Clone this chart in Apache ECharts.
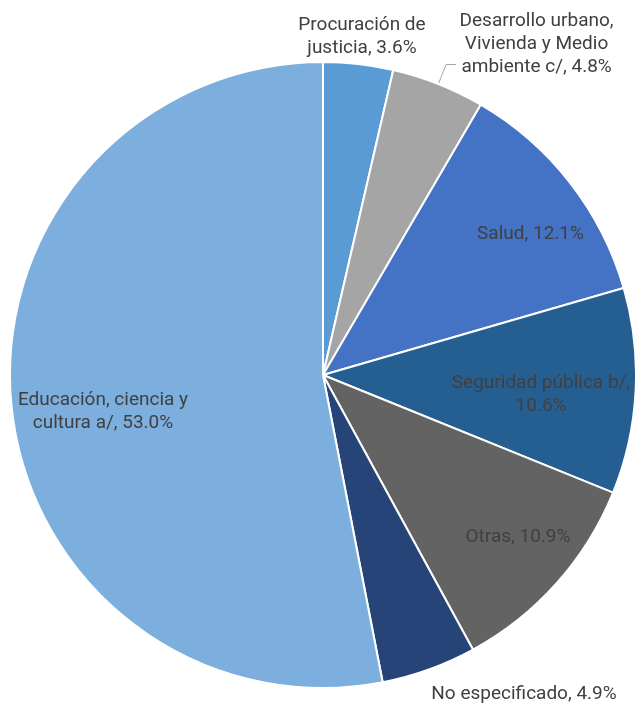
<!DOCTYPE html>
<html>
<head>
<meta charset="utf-8">
<script src="https://cdn.jsdelivr.net/npm/echarts@6/dist/echarts.min.js"></script>
<style>
  html, body { margin: 0; padding: 0; background: #fff; }
  #chart { width: 635px; height: 706px; }
</style>
</head>
<body>
<div id="chart"></div>
<script>
// Share of spending by purpose (%), clockwise from 12 o'clock
const categories = [
  'Procuración de\njusticia',
  'Desarrollo urbano,\nVivienda y Medio\nambiente c/',
  'Salud',
  'Seguridad pública b/,\n',
  'Otras',
  'No especificado',
  'Educación, ciencia y\ncultura a/'
];
const shares = [3.6, 4.8, 12.1, 10.6, 10.9, 4.9, 53.0];
const colors = ['#5B9BD5', '#A5A5A5', '#4472C4', '#255E91', '#636363', '#264478', '#7CAFDD'];

// Centre of each text block in pixels (null = leave at the leader line)
const labelSpots = [
  [362, 36.5], null, [530.5, 234.5], [541, 395], [518, 537.5], [524, 694], [103, 411.5]
];
// Width of each text block, so every line is centred inside it
const blockWidths = [126, 155, 112, 180, 104, 186, 172];

const fmtPlain = p => p.name.endsWith('\n')
  ? p.name + p.value.toFixed(1) + '%'
  : p.name + ', ' + p.value.toFixed(1) + '%';
const fmt = p => fmtPlain(p).split('\n').map(s => '{c' + p.dataIndex + '|' + s + '}').join('\n');

const textStyle = {
  align: 'center', color: '#404040',
  fontFamily: 'Roboto, Arial, sans-serif', fontSize: 19, lineHeight: 23
};
const rich = {};
blockWidths.forEach((w, i) => { rich['c' + i] = Object.assign({ width: w }, textStyle); });

const chart = echarts.init(document.getElementById('chart'), null, { renderer: 'canvas' });

const data = categories.map((name, i) => {
  const item = {
    name: name,
    value: shares[i],
    itemStyle: { color: colors[i] }
  };
  if (i === 1) {
    // outside label hanging off a short leader line
    item.label = {
      position: 'outside',
      distanceToLabelLine: 3,
      padding: [0, 0, 40, 0]
    };
    item.labelLine = {
      show: true, length: 21, length2: 10,
      lineStyle: { color: '#a6a6a6', width: 1 }
    };
  } else {
    item.labelLine = { show: false };
  }
  return item;
});

chart.setOption({
  animation: false,
  series: [{
    type: 'pie',
    center: [323, 375],
    radius: [0, 313],
    startAngle: 90,
    clockwise: true,
    avoidLabelOverlap: false,
    itemStyle: { borderColor: '#ffffff', borderWidth: 2 },
    label: {
      show: true,
      position: 'inside',
      color: '#404040',
      fontFamily: 'Roboto, Arial, sans-serif',
      fontSize: 19,
      lineHeight: 23,
      overflow: 'none',
      formatter: fmt,
      rich: rich
    },
    labelLayout: p => {
      const s = labelSpots[p.dataIndex];
      return s ? { x: s[0], y: s[1], align: 'center', verticalAlign: 'middle' } : {};
    },
    data: data
  }]
});
</script>
</body>
</html>
